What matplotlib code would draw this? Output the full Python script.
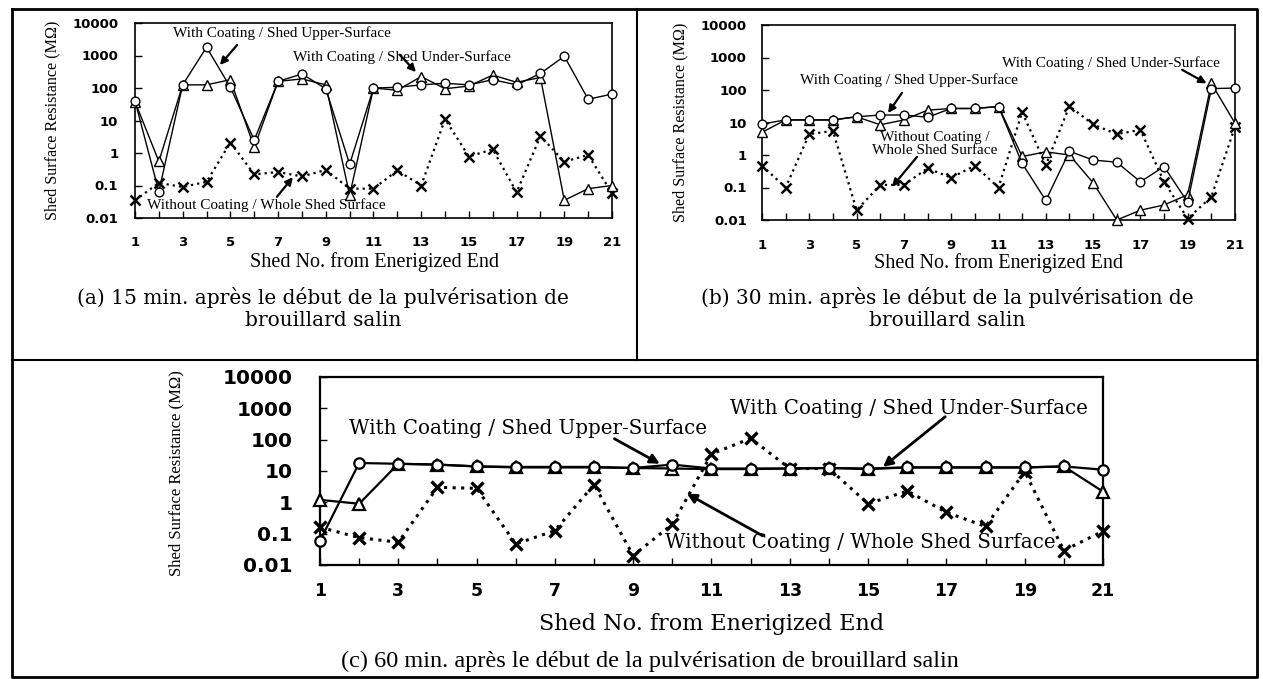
import matplotlib
matplotlib.use("Agg")
import matplotlib.pyplot as plt
from matplotlib.lines import Line2D

W, H = 1263, 679

shed = list(range(1, 22))
tick_labels = [str(i) if i % 2 else "" for i in shed]
y_ticks = [0.01, 0.1, 1, 10, 100, 1000, 10000]
y_tick_labels = ["0.01", "0.1", "1", "10", "100", "1000", "10000"]

# (a) 15 min
a_upper = [40, 0.065, 125, 1800, 105, 2.5, 160, 270, 95, 0.45, 100, 105, 125, 140, 125, 180, 125, 280, 950, 45, 65]
a_under = [38, 0.55, 125, 125, 180, 1.5, 160, 190, 125, 0.05, 100, 85, 225, 95, 115, 250, 150, 210, 0.035, 0.08, 0.1]
a_none = [0.035, 0.12, 0.09, 0.13, 2.1, 0.22, 0.26, 0.19, 0.3, 0.08, 0.08, 0.29, 0.1, 11, 0.78, 1.3, 0.062, 3.3, 0.54, 0.87, 0.058]

# (b) 30 min
b_upper = [9, 12, 12, 12, 15, 17, 17, 14.5, 27, 27, 31, 0.55, 0.04, 1.3, 0.7, 0.6, 0.15, 0.44, 0.035, 110, 115]
b_under = [5, 12, 12, 12, 15, 8.5, 12, 24, 27, 27, 31, 0.9, 1.25, 1.0, 0.14, 0.01, 0.02, 0.029, 0.06, 160, 9.5]
b_none = [0.47, 0.1, 4.4, 5.5, 0.02, 0.12, 0.12, 0.39, 0.2, 0.47, 0.1, 21, 0.49, 32, 8.7, 4.4, 5.9, 0.15, 0.011, 0.052, 7.4]

# (c) 60 min
c_upper = [0.06, 18, 17, 16, 14, 13.5, 13.5, 13.5, 12.5, 16, 12, 12, 12, 12.5, 12, 13, 13, 13, 13, 14, 11]
c_under = [1.2, 0.9, 17, 16, 14, 13, 13, 13, 12.5, 12, 11.5, 11.5, 12, 12.5, 11.5, 13, 13, 13, 13, 14, 2.2]
c_none = [0.16, 0.075, 0.053, 3.0, 2.8, 0.047, 0.125, 3.7, 0.02, 0.2, 35, 110, 12, 12, 0.9, 2.3, 0.48, 0.17, 9.5, 0.029, 0.12]

lbl_upper = "With Coating / Shed Upper-Surface"
lbl_under = "With Coating / Shed Under-Surface"
lbl_none = "Without Coating / Whole Shed Surface"
xlab = "Shed No. from Enerigized End"
ylab = "Shed Surface Resistance (M\u03a9)"

SERIF = "Liberation Serif"
WIDE = "DejaVu Serif"

fig = plt.figure(figsize=(W / 100, H / 100), dpi=100)


def px_axes(x0, y0, x1, y1):
    return fig.add_axes([x0 / W, 1 - y1 / H, (x1 - x0) / W, (y1 - y0) / H])


def fline(xs, ys, lw=1.5):
    fig.add_artist(Line2D([x / W for x in xs], [1 - y / H for y in ys],
                          transform=fig.transFigure, color="black", lw=lw))


def setup(ax, xfs, yfs, spine_w, ypad, xpad):
    ax.set_yscale("log")
    ax.set_xlim(1, 21)
    ax.set_ylim(0.01, 10000)
    ax.set_xticks(shed)
    ax.set_xticklabels(tick_labels)
    ax.set_yticks(y_ticks)
    ax.set_yticklabels(y_tick_labels)
    ax.minorticks_off()
    ax.tick_params(direction="in", length=5, width=1, top=False, right=False)
    ax.tick_params(axis="y", pad=ypad)
    ax.tick_params(axis="x", pad=xpad)
    for t in ax.get_xticklabels():
        t.set_fontfamily("DejaVu Sans")
        t.set_fontweight("bold")
        t.set_fontsize(xfs)
    for t in ax.get_yticklabels():
        t.set_fontfamily("DejaVu Sans")
        t.set_fontweight("bold")
        t.set_fontsize(yfs)
    for s in ax.spines.values():
        s.set_linewidth(spine_w)


def draw(ax, up, un, no, lw, ms, dot_lw):
    ax.plot(shed, no, color="black", lw=dot_lw, ls=(0, (1, 1.8)), marker="x",
            ms=ms + 1, mew=lw + 0.8, clip_on=False, zorder=3)
    ax.plot(shed, un, color="black", lw=lw, marker="^", ms=ms, mfc="white",
            mew=lw, clip_on=False, zorder=4)
    ax.plot(shed, up, color="black", lw=lw, marker="o", ms=ms - 0.5, mfc="white",
            mew=lw, clip_on=False, zorder=5)


def arrow(ax, tail, head, lw, ms):
    ax.annotate("", xy=head, xytext=tail, annotation_clip=False,
                arrowprops=dict(arrowstyle="-|>", color="black", lw=lw,
                                mutation_scale=ms, shrinkA=0, shrinkB=0))


# ---- (a)
ax = px_axes(135, 23, 612, 218)
setup(ax, 9.5, 9.5, 1.2, 12, 13)
draw(ax, a_upper, a_under, a_none, 1.0, 6.8, 1.6)
ax.set_xlabel(xlab, family=SERIF, fontsize=14.5, va="center")
ax.xaxis.set_label_coords(0.503, -0.225)
ax.set_ylabel(ylab, family=SERIF, fontsize=11.6, va="center")
ax.yaxis.set_label_coords(-0.174, 0.5)
ax.text(2.59, 4900, lbl_upper, family=SERIF, fontsize=11, va="center")
arrow(ax, (5.28, 2100), (4.56, 510), 1.6, 11)
ax.text(7.62, 890, lbl_under, family=SERIF, fontsize=11, va="center")
arrow(ax, (12.1, 1050), (12.78, 310), 1.6, 11)
ax.text(1.5, 0.025, lbl_none, family=SERIF, fontsize=11, va="center")
arrow(ax, (6.95, 0.045), (7.62, 0.18), 1.6, 11)

# ---- (b)
ax = px_axes(762, 25, 1235, 220)
setup(ax, 9.5, 9.5, 1.2, 11, 14)
draw(ax, b_upper, b_under, b_none, 1.0, 6.8, 1.6)
ax.set_xlabel(xlab, family=SERIF, fontsize=14.5, va="center")
ax.xaxis.set_label_coords(0.499, -0.22)
ax.set_ylabel(ylab, family=SERIF, fontsize=11.6, va="center")
ax.yaxis.set_label_coords(-0.173, 0.5)
ax.text(2.6, 200, lbl_upper, family=SERIF, fontsize=11, va="center")
arrow(ax, (6.92, 82), (6.33, 19.5), 1.6, 11)
ax.text(11.15, 680, lbl_under, family=SERIF, fontsize=11, va="center")
arrow(ax, (18.76, 420), (19.8, 160), 1.6, 11)
ax.text(8.31, 2.2, "Without Coating /\nWhole Shed Surface", family=SERIF,
        fontsize=11, ha="center", va="center", linespacing=1.0)
arrow(ax, (7.55, 0.87), (6.5, 0.105), 1.6, 11)

# ---- (c)
ax = px_axes(320, 377, 1103, 565)
setup(ax, 12.5, 14.5, 1.6, 20, 12)
draw(ax, c_upper, c_under, c_none, 1.6, 8, 2.2)
ax.set_xlabel(xlab, family=WIDE, fontsize=16, va="center")
ax.xaxis.set_label_coords(0.5, -0.314)
ax.set_ylabel(ylab, family=SERIF, fontsize=12, va="center")
ax.yaxis.set_label_coords(-0.183, 0.49)
ax.text(1.75, 220, lbl_upper, family=WIDE, fontsize=14.3, va="center")
arrow(ax, (8.52, 107), (9.68, 17), 2.0, 14)
ax.text(11.46, 960, lbl_under, family=WIDE, fontsize=14.3, va="center")
arrow(ax, (16.97, 540), (15.38, 13.5), 2.0, 14)
ax.text(9.8, 0.054, lbl_none, family=WIDE, fontsize=14.3, va="center")
arrow(ax, (12.31, 0.085), (10.37, 1.9), 2.0, 14)

# ---- captions
fig.text(323 / W, 1 - 309 / H,
         "(a) 15 min. apr\u00e8s le d\u00e9but de la pulv\u00e9risation de\nbrouillard salin",
         family=WIDE, fontsize=14.5, ha="center", va="center", linespacing=1.2)
fig.text(947 / W, 1 - 309 / H,
         "(b) 30 min. apr\u00e8s le d\u00e9but de la pulv\u00e9risation de\nbrouillard salin",
         family=WIDE, fontsize=14.5, ha="center", va="center", linespacing=1.2)
fig.text(650 / W, 1 - 661 / H,
         "(c) 60 min. apr\u00e8s le d\u00e9but de la pulv\u00e9risation de brouillard salin",
         family=SERIF, fontsize=17.5, ha="center", va="center")

# ---- table borders
fline([12, 1257, 1257, 12, 12], [9, 9, 677, 677, 9], lw=2)
fline([637, 637], [9, 360], lw=1.5)
fline([12, 1257], [360, 360], lw=1.5)

fig.savefig("out.png", dpi=100)
